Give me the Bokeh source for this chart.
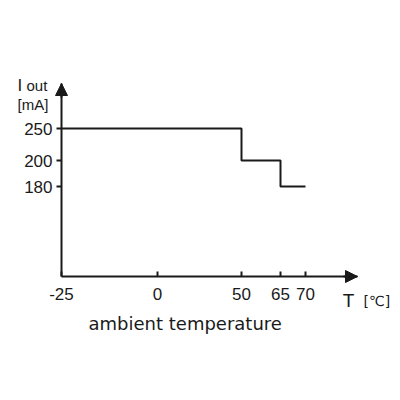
import numpy as np
from bokeh.plotting import figure
from bokeh.models import Range1d, FixedTicker, Label, Arrow, NormalHead
from bokeh.embed import file_html
from bokeh.resources import INLINE

# ---- data ----
temp_ticks = [-25, 0, 50, 65, 70]           # x tick labels (°C)
current_ticks = [250, 200, 180]             # y tick labels (mA)
step_temp = [-25, 50, 50, 65, 65, 70]       # derating curve temperatures
step_current = [250, 250, 200, 200, 180, 180]  # derating curve currents

# ---- schematic (non-linear) axis layout ----
x_pos_of_ticks = [0, 96, 180, 219, 244]     # layout positions of temp ticks
y_levels = [0, 90, 116, 148]                # layout positions for currents
y_values = [0, 180, 200, 250]
X_END, Y_END = 296, 193

def xmap(t):
    return np.interp(t, temp_ticks, x_pos_of_ticks)

def ymap(c):
    return np.interp(c, y_values, y_levels)

INK = "#1a1a1a"
FONT = "Liberation Sans"

p = figure(width=400, height=400, output_backend="svg", toolbar_location=None,
           x_range=Range1d(-61, 339), y_range=Range1d(-124, 276),
           min_border=0)
p.min_border_left = p.min_border_right = p.min_border_top = p.min_border_bottom = 0
p.outline_line_color = None
p.grid.visible = False
p.background_fill_color = "white"
p.border_fill_color = "white"

# x axis
xa = p.xaxis[0]
xa.fixed_location = 0
xa.bounds = (0, X_END)
xa.ticker = FixedTicker(ticks=list(xmap(temp_ticks)))
xa.major_label_overrides = {float(xmap(t)): str(t) for t in temp_ticks}
xa.major_tick_in = 5
xa.major_tick_out = 0
xa.minor_tick_line_color = None
xa.axis_line_width = 2
xa.axis_line_color = INK
xa.major_tick_line_width = 2
xa.major_tick_line_color = INK
xa.major_label_text_font = FONT
xa.major_label_text_font_size = "17px"
xa.major_label_text_color = INK
xa.major_label_standoff = 11

# y axis
ya = p.yaxis[0]
ya.fixed_location = 0
ya.bounds = (0, Y_END)
ya.ticker = FixedTicker(ticks=list(ymap(current_ticks)))
ya.major_label_overrides = {float(ymap(c)): str(c) for c in current_ticks}
ya.major_tick_in = 0
ya.major_tick_out = 5
ya.minor_tick_line_color = None
ya.axis_line_width = 2
ya.axis_line_color = INK
ya.major_tick_line_width = 2
ya.major_tick_line_color = INK
ya.major_label_text_font = FONT
ya.major_label_text_font_size = "17px"
ya.major_label_text_color = INK
ya.major_label_standoff = 4

# arrow heads
p.add_layout(Arrow(x_start=0, y_start=Y_END - 14, x_end=0, y_end=Y_END,
                   line_width=2, line_color=INK,
                   end=NormalHead(size=12, fill_color=INK, line_color=INK, line_width=1)))
p.add_layout(Arrow(x_start=X_END - 14, y_start=0, x_end=X_END, y_end=0,
                   line_width=2, line_color=INK,
                   end=NormalHead(size=12, fill_color=INK, line_color=INK, line_width=1)))

# step curve
p.line(xmap(step_temp), ymap(step_current), line_width=2, line_color=INK)

# labels (data units are 1:1 with pixels here)
def lab(text, x, y, size, align="left", font=FONT):
    p.add_layout(Label(x=x, y=y, text=text,
                       text_font=font, text_font_size=size, text_color=INK,
                       text_align=align, text_baseline="alphabetic"))

lab("I", -44, 191, "17px")
lab("out", -35, 191, "15px")
lab("[mA]", -44, 172, "15px")
lab("T", 287, -24, "19px", align="center")
lab("[℃]", 302, -24, "14px", font="DejaVu Sans")
lab("ambient temperature", 27, -47, "18px", font="DejaVu Sans")

open("out.html", "w").write(file_html(p, INLINE))
